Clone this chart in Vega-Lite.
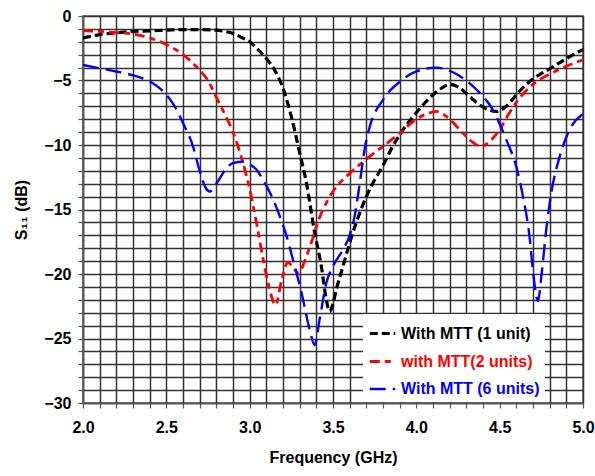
{
  "$schema": "https://vega.github.io/schema/vega-lite/v6.json",
  "width": 500,
  "height": 387,
  "autosize": {"type": "none"},
  "padding": {"left": 83, "top": 16, "right": 12, "bottom": 73},
  "background": "white",
  "config": {
    "font": "Liberation Sans",
    "view": {"stroke": "#555", "strokeWidth": 1.5}
  },
  "data": {
    "values": [
      {"s": "With MTT (1 unit)", "f": 2.0, "v": -1.7},
      {"s": "With MTT (1 unit)", "f": 2.1, "v": -1.45},
      {"s": "With MTT (1 unit)", "f": 2.2, "v": -1.3},
      {"s": "With MTT (1 unit)", "f": 2.3, "v": -1.2},
      {"s": "With MTT (1 unit)", "f": 2.4, "v": -1.15},
      {"s": "With MTT (1 unit)", "f": 2.5, "v": -1.1},
      {"s": "With MTT (1 unit)", "f": 2.6, "v": -1.05},
      {"s": "With MTT (1 unit)", "f": 2.7, "v": -1.05},
      {"s": "With MTT (1 unit)", "f": 2.8, "v": -1.1},
      {"s": "With MTT (1 unit)", "f": 2.85, "v": -1.2},
      {"s": "With MTT (1 unit)", "f": 2.9, "v": -1.35},
      {"s": "With MTT (1 unit)", "f": 2.95, "v": -1.65},
      {"s": "With MTT (1 unit)", "f": 3.0, "v": -2.0},
      {"s": "With MTT (1 unit)", "f": 3.05, "v": -2.6},
      {"s": "With MTT (1 unit)", "f": 3.1, "v": -3.3},
      {"s": "With MTT (1 unit)", "f": 3.15, "v": -4.2},
      {"s": "With MTT (1 unit)", "f": 3.2, "v": -5.6},
      {"s": "With MTT (1 unit)", "f": 3.25, "v": -7.8},
      {"s": "With MTT (1 unit)", "f": 3.3, "v": -10.6},
      {"s": "With MTT (1 unit)", "f": 3.34, "v": -12.9},
      {"s": "With MTT (1 unit)", "f": 3.39, "v": -16.8},
      {"s": "With MTT (1 unit)", "f": 3.43, "v": -19.4},
      {"s": "With MTT (1 unit)", "f": 3.46, "v": -22.0},
      {"s": "With MTT (1 unit)", "f": 3.48, "v": -22.9},
      {"s": "With MTT (1 unit)", "f": 3.5, "v": -22.3},
      {"s": "With MTT (1 unit)", "f": 3.52, "v": -21.2},
      {"s": "With MTT (1 unit)", "f": 3.56, "v": -19.4},
      {"s": "With MTT (1 unit)", "f": 3.6, "v": -17.6},
      {"s": "With MTT (1 unit)", "f": 3.64, "v": -16.0},
      {"s": "With MTT (1 unit)", "f": 3.7, "v": -14.0},
      {"s": "With MTT (1 unit)", "f": 3.75, "v": -12.7},
      {"s": "With MTT (1 unit)", "f": 3.8, "v": -11.6},
      {"s": "With MTT (1 unit)", "f": 3.85, "v": -10.3},
      {"s": "With MTT (1 unit)", "f": 3.9, "v": -9.2},
      {"s": "With MTT (1 unit)", "f": 4.0, "v": -7.5},
      {"s": "With MTT (1 unit)", "f": 4.1, "v": -6.1},
      {"s": "With MTT (1 unit)", "f": 4.15, "v": -5.6},
      {"s": "With MTT (1 unit)", "f": 4.2, "v": -5.3},
      {"s": "With MTT (1 unit)", "f": 4.25, "v": -5.5},
      {"s": "With MTT (1 unit)", "f": 4.3, "v": -6.0},
      {"s": "With MTT (1 unit)", "f": 4.36, "v": -6.7},
      {"s": "With MTT (1 unit)", "f": 4.42, "v": -7.2},
      {"s": "With MTT (1 unit)", "f": 4.48, "v": -7.4},
      {"s": "With MTT (1 unit)", "f": 4.54, "v": -7.0},
      {"s": "With MTT (1 unit)", "f": 4.6, "v": -6.1},
      {"s": "With MTT (1 unit)", "f": 4.66, "v": -5.3},
      {"s": "With MTT (1 unit)", "f": 4.72, "v": -4.7},
      {"s": "With MTT (1 unit)", "f": 4.8, "v": -4.1},
      {"s": "With MTT (1 unit)", "f": 4.9, "v": -3.3},
      {"s": "With MTT (1 unit)", "f": 5.0, "v": -2.6},

      {"s": "with MTT(2 units)", "f": 2.0, "v": -1.15},
      {"s": "with MTT(2 units)", "f": 2.1, "v": -1.2},
      {"s": "with MTT(2 units)", "f": 2.2, "v": -1.3},
      {"s": "with MTT(2 units)", "f": 2.3, "v": -1.4},
      {"s": "with MTT(2 units)", "f": 2.4, "v": -1.7},
      {"s": "with MTT(2 units)", "f": 2.5, "v": -2.2},
      {"s": "with MTT(2 units)", "f": 2.6, "v": -3.0},
      {"s": "with MTT(2 units)", "f": 2.7, "v": -4.2},
      {"s": "with MTT(2 units)", "f": 2.75, "v": -5.0},
      {"s": "with MTT(2 units)", "f": 2.8, "v": -6.3},
      {"s": "with MTT(2 units)", "f": 2.85, "v": -7.6},
      {"s": "with MTT(2 units)", "f": 2.9, "v": -9.0},
      {"s": "with MTT(2 units)", "f": 2.96, "v": -11.4},
      {"s": "with MTT(2 units)", "f": 3.0, "v": -13.4},
      {"s": "with MTT(2 units)", "f": 3.04, "v": -16.0},
      {"s": "with MTT(2 units)", "f": 3.08, "v": -18.8},
      {"s": "with MTT(2 units)", "f": 3.12, "v": -21.2},
      {"s": "with MTT(2 units)", "f": 3.155, "v": -22.4},
      {"s": "with MTT(2 units)", "f": 3.19, "v": -20.6},
      {"s": "with MTT(2 units)", "f": 3.23, "v": -19.1},
      {"s": "with MTT(2 units)", "f": 3.26, "v": -19.5},
      {"s": "with MTT(2 units)", "f": 3.29, "v": -19.9},
      {"s": "with MTT(2 units)", "f": 3.35, "v": -18.3},
      {"s": "with MTT(2 units)", "f": 3.42, "v": -15.6},
      {"s": "with MTT(2 units)", "f": 3.5, "v": -13.6},
      {"s": "with MTT(2 units)", "f": 3.6, "v": -12.2},
      {"s": "with MTT(2 units)", "f": 3.7, "v": -11.1},
      {"s": "with MTT(2 units)", "f": 3.8, "v": -10.1},
      {"s": "with MTT(2 units)", "f": 3.9, "v": -9.1},
      {"s": "with MTT(2 units)", "f": 4.0, "v": -8.0},
      {"s": "with MTT(2 units)", "f": 4.06, "v": -7.6},
      {"s": "with MTT(2 units)", "f": 4.12, "v": -7.4},
      {"s": "with MTT(2 units)", "f": 4.16, "v": -7.6},
      {"s": "with MTT(2 units)", "f": 4.2, "v": -8.0},
      {"s": "with MTT(2 units)", "f": 4.26, "v": -8.8},
      {"s": "with MTT(2 units)", "f": 4.32, "v": -9.6},
      {"s": "with MTT(2 units)", "f": 4.39, "v": -10.1},
      {"s": "with MTT(2 units)", "f": 4.45, "v": -9.6},
      {"s": "with MTT(2 units)", "f": 4.5, "v": -8.8},
      {"s": "with MTT(2 units)", "f": 4.55, "v": -7.7},
      {"s": "with MTT(2 units)", "f": 4.6, "v": -6.7},
      {"s": "with MTT(2 units)", "f": 4.7, "v": -5.3},
      {"s": "with MTT(2 units)", "f": 4.8, "v": -4.5},
      {"s": "with MTT(2 units)", "f": 4.9, "v": -3.9},
      {"s": "with MTT(2 units)", "f": 5.0, "v": -3.4},

      {"s": "With MTT (6 units)", "f": 2.0, "v": -3.8},
      {"s": "With MTT (6 units)", "f": 2.1, "v": -4.05},
      {"s": "With MTT (6 units)", "f": 2.2, "v": -4.3},
      {"s": "With MTT (6 units)", "f": 2.3, "v": -4.6},
      {"s": "With MTT (6 units)", "f": 2.38, "v": -4.95},
      {"s": "With MTT (6 units)", "f": 2.44, "v": -5.4},
      {"s": "With MTT (6 units)", "f": 2.5, "v": -6.1},
      {"s": "With MTT (6 units)", "f": 2.55, "v": -7.0},
      {"s": "With MTT (6 units)", "f": 2.6, "v": -8.3},
      {"s": "With MTT (6 units)", "f": 2.66, "v": -10.1},
      {"s": "With MTT (6 units)", "f": 2.7, "v": -12.0},
      {"s": "With MTT (6 units)", "f": 2.735, "v": -13.3},
      {"s": "With MTT (6 units)", "f": 2.76, "v": -13.6},
      {"s": "With MTT (6 units)", "f": 2.8, "v": -13.0},
      {"s": "With MTT (6 units)", "f": 2.85, "v": -12.0},
      {"s": "With MTT (6 units)", "f": 2.9, "v": -11.4},
      {"s": "With MTT (6 units)", "f": 2.96, "v": -11.3},
      {"s": "With MTT (6 units)", "f": 3.0, "v": -11.5},
      {"s": "With MTT (6 units)", "f": 3.04, "v": -11.9},
      {"s": "With MTT (6 units)", "f": 3.08, "v": -12.7},
      {"s": "With MTT (6 units)", "f": 3.14, "v": -14.2},
      {"s": "With MTT (6 units)", "f": 3.18, "v": -15.5},
      {"s": "With MTT (6 units)", "f": 3.22, "v": -17.0},
      {"s": "With MTT (6 units)", "f": 3.26, "v": -18.9},
      {"s": "With MTT (6 units)", "f": 3.31, "v": -21.4},
      {"s": "With MTT (6 units)", "f": 3.36, "v": -24.3},
      {"s": "With MTT (6 units)", "f": 3.39, "v": -25.5},
      {"s": "With MTT (6 units)", "f": 3.42, "v": -23.5},
      {"s": "With MTT (6 units)", "f": 3.46, "v": -20.7},
      {"s": "With MTT (6 units)", "f": 3.5, "v": -19.4},
      {"s": "With MTT (6 units)", "f": 3.56, "v": -18.1},
      {"s": "With MTT (6 units)", "f": 3.6, "v": -17.0},
      {"s": "With MTT (6 units)", "f": 3.63, "v": -15.5},
      {"s": "With MTT (6 units)", "f": 3.66, "v": -13.0},
      {"s": "With MTT (6 units)", "f": 3.69, "v": -10.3},
      {"s": "With MTT (6 units)", "f": 3.72, "v": -8.6},
      {"s": "With MTT (6 units)", "f": 3.8, "v": -6.5},
      {"s": "With MTT (6 units)", "f": 3.9, "v": -5.1},
      {"s": "With MTT (6 units)", "f": 4.0, "v": -4.3},
      {"s": "With MTT (6 units)", "f": 4.12, "v": -4.0},
      {"s": "With MTT (6 units)", "f": 4.24, "v": -4.5},
      {"s": "With MTT (6 units)", "f": 4.36, "v": -5.7},
      {"s": "With MTT (6 units)", "f": 4.46, "v": -7.3},
      {"s": "With MTT (6 units)", "f": 4.54, "v": -9.6},
      {"s": "With MTT (6 units)", "f": 4.6, "v": -11.7},
      {"s": "With MTT (6 units)", "f": 4.64, "v": -14.0},
      {"s": "With MTT (6 units)", "f": 4.68, "v": -17.2},
      {"s": "With MTT (6 units)", "f": 4.7, "v": -19.8},
      {"s": "With MTT (6 units)", "f": 4.73, "v": -22.1},
      {"s": "With MTT (6 units)", "f": 4.75, "v": -20.2},
      {"s": "With MTT (6 units)", "f": 4.78, "v": -16.5},
      {"s": "With MTT (6 units)", "f": 4.81, "v": -13.7},
      {"s": "With MTT (6 units)", "f": 4.86, "v": -10.9},
      {"s": "With MTT (6 units)", "f": 4.92, "v": -8.8},
      {"s": "With MTT (6 units)", "f": 5.0, "v": -7.6}
    ]
  },
  "mark": {"type": "line", "interpolate": "monotone", "clip": true},
  "encoding": {
    "x": {
      "field": "f", "type": "quantitative",
      "scale": {"domain": [2, 5], "nice": false, "zero": false},
      "axis": {
        "title": "Frequency (GHz)",
        "values": [2.0,2.1,2.2,2.3,2.4,2.5,2.6,2.7,2.8,2.9,3.0,3.1,3.2,3.3,3.4,3.5,3.6,3.7,3.8,3.9,4.0,4.1,4.2,4.3,4.4,4.5,4.6,4.7,4.8,4.9,5.0],
        "labelExpr": "abs(datum.value*2 - round(datum.value*2)) < 0.001 ? format(datum.value, '.1f') : ''",
        "grid": true, "gridColor": "#333", "gridWidth": 1.5, "gridOpacity": 1,
        "domainColor": "#555", "domainWidth": 1.5,
        "tickColor": "#555", "tickSize": 5, "tickWidth": 1.2,
        "labelFont": "Liberation Sans", "labelFontWeight": "bold", "labelFontSize": 16, "labelColor": "#000",
        "labelPadding": 11, "labelFlush": false,
        "titleFont": "Liberation Sans", "titleFontWeight": "bold", "titleFontSize": 16, "titleColor": "#000",
        "titlePadding": 14
      }
    },
    "y": {
      "field": "v", "type": "quantitative",
      "scale": {"domain": [-30, 0], "nice": false},
      "axis": {
        "title": "S₁₁ (dB)",
        "values": [-30,-29,-28,-27,-26,-25,-24,-23,-22,-21,-20,-19,-18,-17,-16,-15,-14,-13,-12,-11,-10,-9,-8,-7,-6,-5,-4,-3,-2,-1,0],
        "labelExpr": "datum.value % 5 === 0 ? format(datum.value, 'd') : ''",
        "grid": true, "gridColor": "#333", "gridWidth": 1.5, "gridOpacity": 1,
        "domainColor": "#555", "domainWidth": 1.5,
        "tickColor": "#555", "tickSize": 5, "tickWidth": 1.2,
        "labelFont": "Liberation Sans", "labelFontWeight": "bold", "labelFontSize": 16, "labelColor": "#000",
        "labelPadding": 7, "labelFlush": false,
        "titleFont": "Liberation Sans", "titleFontWeight": "bold", "titleFontSize": 16, "titleColor": "#000",
        "titlePadding": 14
      }
    },
    "color": {
      "field": "s", "type": "nominal",
      "scale": {
        "domain": ["With MTT (1 unit)", "with MTT(2 units)", "With MTT (6 units)"],
        "range": ["#000000", "#ff0000", "#0000ff"]
      },
      "legend": {
        "title": null,
        "orient": "none",
        "legendX": 280,
        "legendY": 298,
        "fillColor": "white",
        "padding": 5,
        "symbolType": "stroke",
        "symbolSize": 650,
        "symbolStrokeWidth": 3.5,
        "rowPadding": 5,
        "labelFont": "Liberation Sans",
        "labelFontWeight": "bold",
        "labelFontSize": 16,
        "labelOffset": 4,
        "labelLimit": 300,
        "encode": {
          "labels": {"update": {"fill": {"scale": "color", "field": "value"}}}
        }
      }
    },
    "strokeDash": {
      "field": "s", "type": "nominal",
      "scale": {
        "domain": ["With MTT (1 unit)", "with MTT(2 units)", "With MTT (6 units)"],
        "range": [[8, 4], [10, 5, 6, 5], [16, 7]]
      },
      "legend": null
    },
    "strokeWidth": {
      "field": "s", "type": "nominal",
      "scale": {
        "domain": ["With MTT (1 unit)", "with MTT(2 units)", "With MTT (6 units)"],
        "range": [3.2, 2.4, 3.8]
      },
      "legend": null
    }
  }
}
